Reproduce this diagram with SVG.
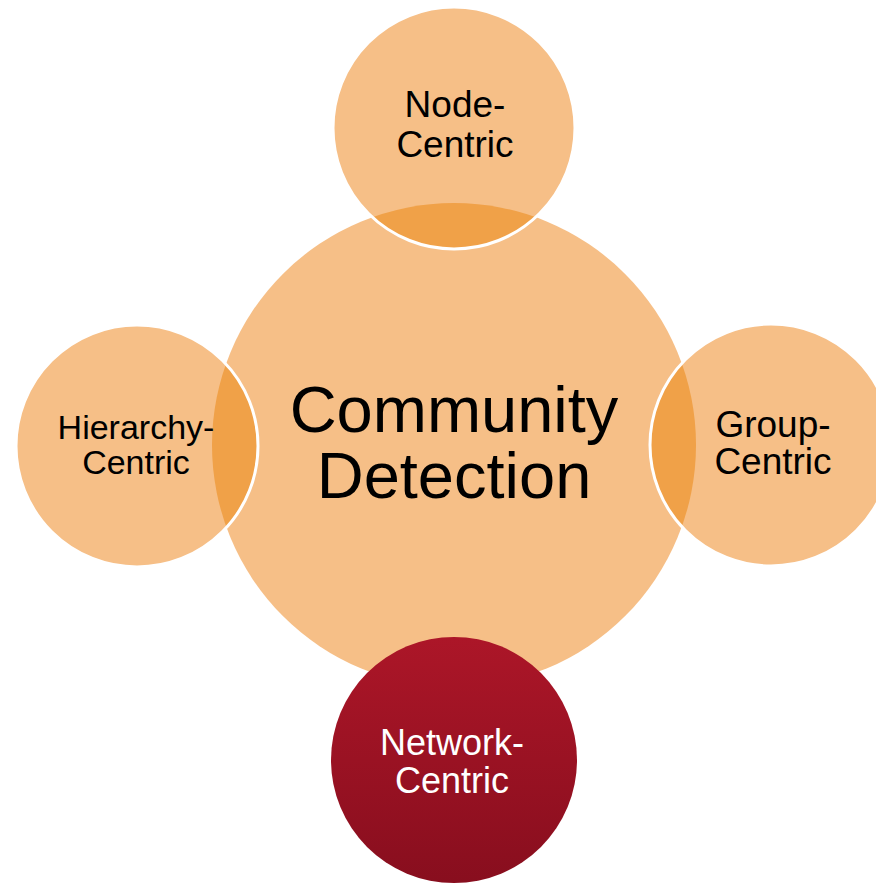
<svg xmlns="http://www.w3.org/2000/svg" width="876" height="887" viewBox="0 0 876 887">
  <style>
    .light { fill: #F6BF87; }
    .dark { fill: #F0A148; }
    .ring { fill: none; stroke: #FFFFFF; stroke-width: 3; }
    .lbl { font-family: "Liberation Sans", Arial, sans-serif; fill: #000000; text-anchor: middle; }
    .lblw { font-family: "Liberation Sans", Arial, sans-serif; fill: #FFFFFF; text-anchor: middle; }
  </style>
  <defs>
    <clipPath id="clipCenter">
      <circle cx="454" cy="445" r="242"/>
    </clipPath>
    <linearGradient id="redGrad" x1="0" y1="0" x2="0" y2="1">
      <stop offset="0" stop-color="#AC1628"/>
      <stop offset="1" stop-color="#880E1E"/>
    </linearGradient>
  </defs>
  <rect width="876" height="887" fill="#FFFFFF"/>

  <g id="community-detection">
    <circle class="light" cx="454" cy="445" r="242"/>
  </g>

  <g id="node-centric">
    <circle class="light" cx="454" cy="128" r="121"/>
    <circle class="dark" cx="454" cy="128" r="121" clip-path="url(#clipCenter)"/>
    <circle class="ring" cx="454" cy="128" r="121"/>
    <text class="lbl" font-size="37" x="455" y="117">Node-</text>
    <text class="lbl" font-size="37" x="455" y="157">Centric</text>
  </g>

  <g id="hierarchy-centric">
    <circle class="light" cx="137" cy="446" r="121"/>
    <circle class="dark" cx="137" cy="446" r="121" clip-path="url(#clipCenter)"/>
    <circle class="ring" cx="137" cy="446" r="121"/>
    <text class="lbl" font-size="34" x="136" y="439">Hierarchy-</text>
    <text class="lbl" font-size="34" x="136" y="474">Centric</text>
  </g>

  <g id="group-centric">
    <circle class="light" cx="771" cy="445" r="121"/>
    <circle class="dark" cx="771" cy="445" r="121" clip-path="url(#clipCenter)"/>
    <circle class="ring" cx="771" cy="445" r="121"/>
    <text class="lbl" font-size="37" x="773" y="437">Group-</text>
    <text class="lbl" font-size="37" x="773" y="474">Centric</text>
  </g>

  <g id="community-detection-label">
    <text class="lbl" font-size="65" x="454" y="432">Community</text>
    <text class="lbl" font-size="65" x="454" y="498">Detection</text>
  </g>

  <g id="network-centric">
    <circle cx="454" cy="760" r="123" fill="url(#redGrad)"/>
    <text class="lblw" font-size="36" x="452" y="755">Network-</text>
    <text class="lblw" font-size="36" x="452" y="793">Centric</text>
  </g>

  <g id="connectors"></g>
</svg>
